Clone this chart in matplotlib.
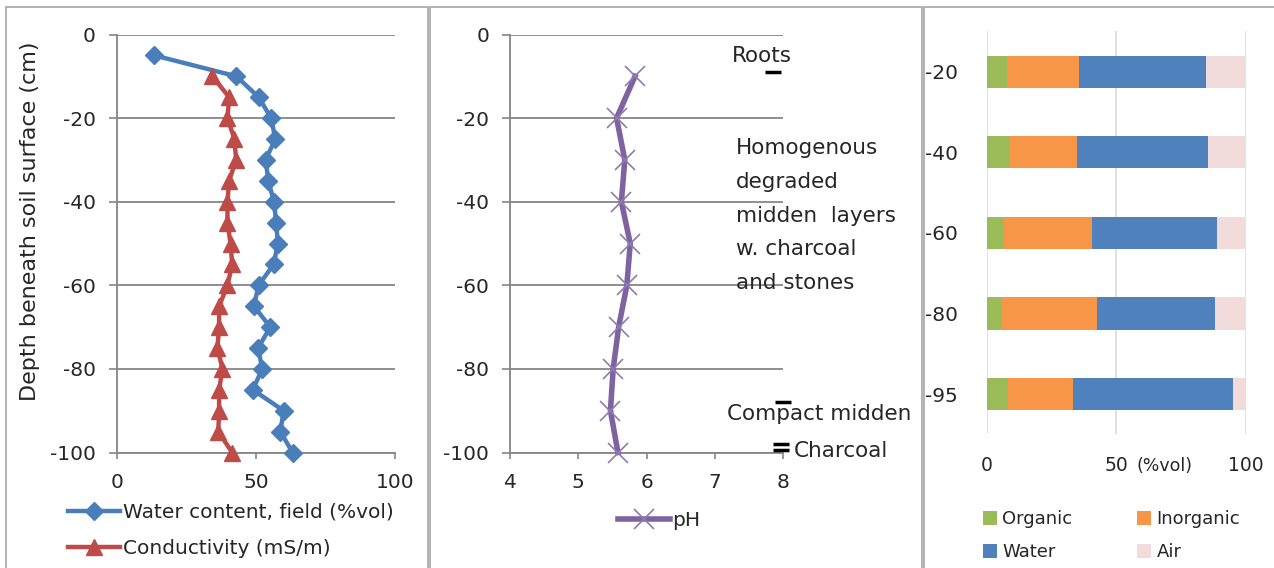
import matplotlib
matplotlib.use("Agg")
import matplotlib.pyplot as plt
from matplotlib.patches import Rectangle

plt.rcParams['font.family'] = ['DejaVu Sans']
plt.rcParams['axes.unicode_minus'] = False

# ---------------- data ----------------
depth_water = [-5, -10, -15, -20, -25, -30, -35, -40, -45, -50, -55, -60, -65, -70,
               -75, -80, -85, -90, -95, -100]
water_content = [13.5, 43, 51, 55.5, 57, 53.5, 54.5, 56.5, 57.3, 57.9, 56.4, 51, 49.3,
                 55.2, 50.8, 52.3, 48.9, 60, 58.8, 63.2]

depth_cond = [-10, -15, -20, -25, -30, -35, -40, -45, -50, -55, -60, -65, -70, -75,
              -80, -85, -90, -95, -100]
conductivity = [34.4, 40.4, 39.8, 42.3, 42.9, 40.4, 39.8, 39.8, 40.9, 41.5, 39.8, 36.8,
                36.8, 36.2, 38, 36.8, 36.8, 36.5, 41.5]

depth_ph = [-10, -20, -30, -40, -50, -60, -70, -80, -90, -100]
ph = [5.83, 5.56, 5.68, 5.63, 5.76, 5.71, 5.59, 5.51, 5.47, 5.58]

horizon_x = [7.85, 8.0, 7.97, 7.97]
horizon_depth = [-9, -88, -98, -99.5]

bar_depths = ['-20', '-40', '-60', '-80', '-95']
organic = [8.0, 8.7, 6.8, 5.9, 8.1]
inorganic = [27.7, 26.0, 33.7, 36.8, 25.3]
water = [49.0, 50.6, 48.3, 45.6, 61.8]
air = [15.3, 14.7, 11.2, 11.7, 4.8]

depth_ticks = [0, -20, -40, -60, -80, -100]
water_ticks = [0, 50, 100]
ph_ticks = [4, 5, 6, 7, 8]

# ---------------- figure ----------------
W, H = 1274, 568
fig = plt.figure(figsize=(W / 100, H / 100), dpi=100)
fig.patch.set_facecolor('white')


def rect(x0, y0, x1, y1):
    return [x0 / W, 1 - y1 / H, (x1 - x0) / W, (y1 - y0) / H]


def fx(x):
    return x / W


def fy(y):
    return 1 - y / H


# panel borders
for (x0, x1) in [(6, 428), (430, 922), (924, 1290)]:
    fig.patches.append(Rectangle((fx(x0), fy(600)), fx(x1) - fx(x0), fy(7) - fy(600),
                                 transform=fig.transFigure, fill=False,
                                 edgecolor='#A6A6A6', lw=1.2, zorder=0))

GRID = '#868686'
TXT = '#262626'
TFS = 14.5     # tick labels
LFS = 14.5     # legends
AFS = 15.5     # annotations


def style_line_axes(ax):
    ax.set_ylim(-100, 0)
    ax.set_yticks(depth_ticks)
    ax.grid(axis='y', color=GRID, lw=1.3)
    ax.set_axisbelow(True)
    for s in ['top', 'right']:
        ax.spines[s].set_visible(False)
    for s in ['left', 'bottom']:
        ax.spines[s].set_color(GRID)
        ax.spines[s].set_linewidth(1.3)
    ax.tick_params(axis='y', length=6, width=1.2, color=GRID, pad=9,
                   labelsize=TFS, labelcolor=TXT)
    ax.tick_params(axis='x', length=4, width=1.2, color=GRID, pad=11,
                   labelsize=TFS, labelcolor=TXT)


# ---------- left panel ----------
ax1 = fig.add_axes(rect(116.7, 34.5, 395, 452.5))
style_line_axes(ax1)
ax1.set_xlim(0, 100)
ax1.set_xticks(water_ticks)
l_w, = ax1.plot(water_content, depth_water, color='#4A7EBB', lw=3.2, marker='D',
                ms=9.5, mec='#4A7EBB', mfc='#4A7EBB', zorder=3, clip_on=False,
                label='Water content, field (%vol)')
l_c, = ax1.plot(conductivity, depth_cond, color='#BE4B48', lw=3.2, marker='^',
                ms=11, mec='#BE4B48', mfc='#BE4B48', zorder=3, clip_on=False,
                label='Conductivity (mS/m)')
fig.text(fx(30), fy(221), 'Depth beneath soil surface (cm)', rotation=90,
         fontsize=16, color=TXT, ha='center', va='center')
fig.legend(handles=[l_w, l_c], loc='upper left',
           bbox_to_anchor=(fx(68), fy(503)), frameon=False, fontsize=LFS,
           handlelength=2.6, handletextpad=0.15, labelspacing=0.85,
           borderpad=0, borderaxespad=0, labelcolor=TXT)

# ---------- middle panel ----------
ax2 = fig.add_axes(rect(510, 34.5, 783.3, 452.5))
style_line_axes(ax2)
ax2.set_xlim(4, 8)
ax2.set_xticks(ph_ticks)
l_p, = ax2.plot(ph, depth_ph, color='#7F63A1', lw=4, marker='x', ms=14, mew=1.2,
                mec='#8E7CB0', zorder=3, clip_on=False, label='pH')
ax2.plot(horizon_x, horizon_depth, ls='none', marker='_', ms=11, mew=2.5,
         color='black', zorder=4, clip_on=False)
fig.legend(handles=[l_p], loc='upper left', bbox_to_anchor=(fx(618), fy(511)),
           frameon=False, fontsize=LFS, handlelength=2.6, handletextpad=0.1,
           borderpad=0, borderaxespad=0, labelcolor=TXT)

fig.text(fx(732), fy(56), 'Roots', fontsize=AFS, color=TXT, ha='left', va='center')
for i, line in enumerate(['Homogenous', 'degraded', 'midden  layers',
                          'w. charcoal', 'and stones']):
    fig.text(fx(736), fy(148 + i * 33.8), line, fontsize=AFS, color=TXT,
             ha='left', va='center')
fig.text(fx(727), fy(414), 'Compact midden', fontsize=AFS, color=TXT,
         ha='left', va='center')
fig.text(fx(794), fy(451), 'Charcoal', fontsize=AFS, color=TXT,
         ha='left', va='center')

# ---------- right panel ----------
ax3 = fig.add_axes(rect(986.7, 31.4, 1245.7, 434.3))
ypos = list(range(len(bar_depths)))
left = [0] * len(bar_depths)
handles = {}
for vals, col, name in [(organic, '#9BBB59', 'Organic'),
                        (inorganic, '#F79646', 'Inorganic'),
                        (water, '#4F81BD', 'Water'),
                        (air, '#F2DCDB', 'Air')]:
    handles[name] = ax3.barh(ypos, vals, left=left, height=0.4, color=col,
                             label=name, zorder=3)
    left = [l + v for l, v in zip(left, vals)]
ax3.set_xlim(0, 100)
ax3.set_ylim(len(bar_depths) - 0.5, -0.5)
ax3.set_yticks(ypos)
ax3.set_yticklabels(bar_depths)
ax3.set_xticks(water_ticks)
ax3.grid(axis='x', color='#D9D9D9', lw=1.1)
ax3.set_axisbelow(True)
for s in ax3.spines.values():
    s.set_visible(False)
ax3.tick_params(axis='y', length=0, pad=21, labelsize=TFS, labelcolor=TXT)
ax3.tick_params(axis='x', length=0, pad=15.5, labelsize=13.5, labelcolor=TXT)
ax3.text(68.5, -0.079, '(%vol)', transform=ax3.get_xaxis_transform(),
         fontsize=12.5, color=TXT, ha='center', va='center')
order = ['Organic', 'Water', 'Inorganic', 'Air']
fig.legend(handles=[handles[k] for k in order], labels=order, loc='upper left',
           bbox_to_anchor=(fx(983), fy(510)), ncol=2, frameon=False, fontsize=13,
           handlelength=0.78, handleheight=0.78, handletextpad=0.28,
           columnspacing=3.6, labelspacing=0.84, borderpad=0, borderaxespad=0,
           labelcolor=TXT)

fig.savefig('out.png', dpi=100)
